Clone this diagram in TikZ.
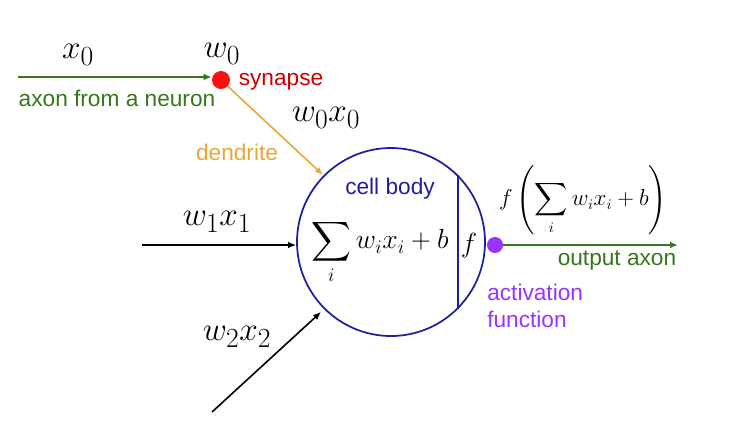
\documentclass[tikz,border=0pt]{standalone}
\usepackage{fontspec}
\setmainfont{Liberation Sans}
\usepackage{amsmath}
\usetikzlibrary{arrows.meta}
\definecolor{axgreen}{HTML}{38761D}
\definecolor{synred}{HTML}{CC0000}
\definecolor{dotred}{HTML}{FF1010}
\definecolor{dendor}{HTML}{E8A838}
\definecolor{cellblue}{HTML}{1F1F9E}
\definecolor{actpurple}{HTML}{9933FF}
\begin{document}
\begin{tikzpicture}[x=0.75pt,y=-0.75pt,
  lbl/.style={font=\fontsize{17pt}{20pt}\selectfont, inner sep=0pt},
  mlbl/.style={font=\fontsize{28pt}{32pt}\selectfont, inner sep=0pt},
  tip/.style={-{Latex[length=6pt,width=5pt]}},
  wire/.style={line width=1.2pt}]
\useasboundingbox (0,0) rectangle (736,426);
% cell body
\node[circle, draw=cellblue, line width=1.3pt, minimum size=141pt, inner sep=0pt] (cell) at (391,242) {};
\draw[cellblue, line width=1.3pt] (cell.45) -- (cell.-45);
\node[lbl, text=cellblue] (cbody) at (390,189) {cell body};
\node[inner sep=0pt, font=\fontsize{20pt}{24pt}\selectfont] (sum) at (380,252) {$\displaystyle\sum_i w_i x_i + b$};
\node[inner sep=0pt, font=\fontsize{21pt}{24pt}\selectfont] (fa) at (469,246) {$f$};
% synapse
\node[circle, fill=dotred, minimum size=13.5pt, inner sep=0pt] (syn) at (221,80) {};
\coordinate (x0start) at (18,77);
\draw[wire, axgreen, tip] (x0start) -- (syn.west |- x0start);
\node[mlbl] (x0) at (78,55) {$x_0$};
\node[mlbl] (w0) at (222,54) {$w_0$};
\node[lbl, text=synred] (synl) at (281,82) {synapse};
\node[lbl, text=axgreen] (axl) at (117,98) {axon from a neuron};
\coordinate (dend) at (323,175);
\draw[wire, dendor, tip] (syn) -- (dend);
\node[mlbl] (w0x0) at (326,118) {$w_0x_0$};
\node[lbl, text=dendor] (dendl) at (237,152) {dendrite};
% input 1
\coordinate (x1start) at (142,245);
\draw[wire, tip] (x1start) -- (cell.west |- x1start);
\node[mlbl] (w1x1) at (217,222) {$w_1x_1$};
% input 2
\coordinate (x2start) at (212,412);
\coordinate (x2end) at (321,312);
\draw[wire, tip] (x2start) -- (x2end);
\node[mlbl] (w2x2) at (237,337) {$w_2x_2$};
% output
\node[circle, fill=actpurple, minimum size=12pt, inner sep=0pt] (act) at (495,245) {};
\coordinate (outend) at (678,245);
\draw[wire, axgreen, tip] (act) -- (outend);
\node[inner sep=0pt, font=\fontsize{16pt}{19pt}\selectfont] (fout) at (583,200) {$f\left(\displaystyle\sum_i w_i x_i + b\right)$};
\node[lbl, text=axgreen] (outl) at (617,261) {output axon};
\node[lbl, text=actpurple, align=left, anchor=north west] (actl) at (487,284) {activation\\function};
\end{tikzpicture}
\end{document}
